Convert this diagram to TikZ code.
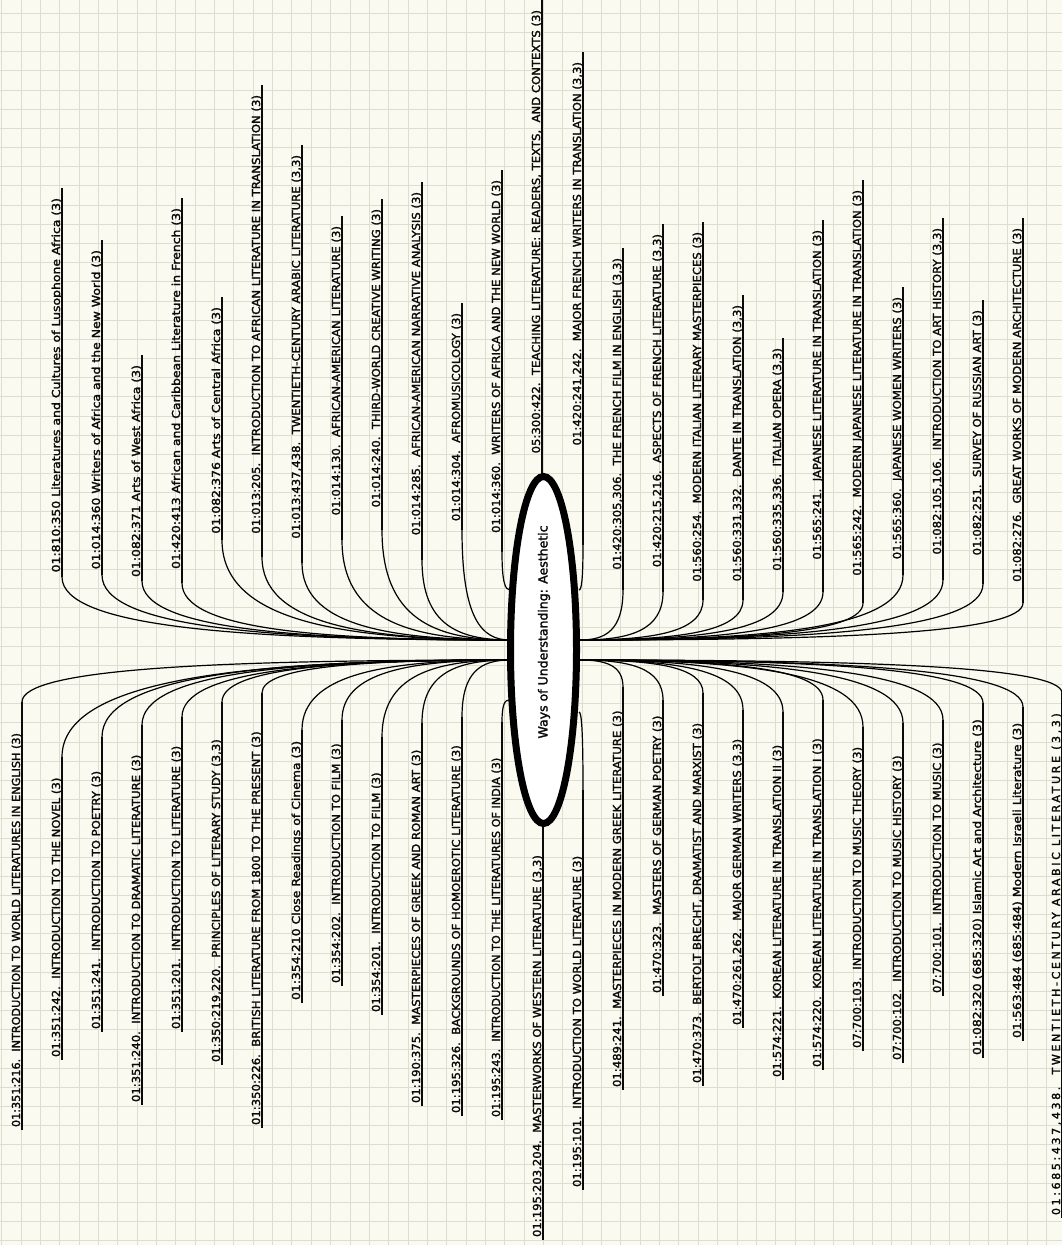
\documentclass[tikz,border=0pt]{standalone}
\usepackage{fontspec}
\setmainfont{DejaVu Sans}
\newfontfamily\capsf[FakeStretch=1.06,FakeBold=2]{DejaVu Sans}
\newfontfamily\capnf[FakeStretch=1.02,FakeBold=2]{DejaVu Sans}
\newfontfamily\capwf[LetterSpace=24,FakeBold=2]{DejaVu Sans}
\newfontfamily\mixf[FakeStretch=1.13,FakeBold=2]{DejaVu Sans}
\newfontfamily\ctrf[FakeBold=2]{DejaVu Sans}
\usetikzlibrary{shapes.geometric,calc}
\definecolor{bgc}{HTML}{FAFAF0}
\definecolor{gridc}{HTML}{DCDFCF}
\definecolor{inkc}{HTML}{0A0A0A}
\tikzset{
 lab/.style={rotate=90, inner xsep=3pt, inner ysep=0pt, outer sep=0pt, text height=8pt, text depth=2pt, text=inkc},
 capl/.style={font=\capsf\fontsize{11}{13}\selectfont},
 capn/.style={font=\capnf\fontsize{11}{13}\selectfont},
 capw/.style={font=\capwf\fontsize{11}{13}\selectfont},
 mixl/.style={font=\mixf\fontsize{11}{13}\selectfont},
 uline/.style={draw=inkc, line width=1.1pt},
 conn/.style={draw=black, line width=1.2pt},
 gridl/.style={draw=gridc, line width=1pt},
}
% upper label: name, x, top of underline, attach point, style, text
\newcommand\upnode[6]{%
 \node[lab,#5,anchor=south east] (#1) at (#2,{#3+7}) {#6};
 \coordinate (#1a) at (#2,#4);
 \coordinate (#1t) at (#2,#3);
 \draw[uline] (#1a) -- (#1t);}
% lower label: name, x, text start (bottom), attach point, style, text
\newcommand\dnnode[6]{%
 \node[lab,#5,anchor=south west] (#1) at (#2,#3) {#6};
 \coordinate (#1a) at (#2,#4);
 \draw[uline] (#1.south west) -- (#1a);}
\newcommand\lnk[2]{\draw[conn] let \p1=(#1), \p2=(#2) in (\p1) .. controls (\x1,{\y1+0.8*(\y2-\y1)}) and ({\x1+0.4*(\x2-\x1)},\y2) .. (\p2);}
\begin{document}
\begin{tikzpicture}[x=1pt,y=-1pt]
\fill[bgc] (0,0) rectangle (1062,1245);
\useasboundingbox (0,0) rectangle (1062,1245);
\clip (0,0) rectangle (1062,1245);
\foreach \i in {0,...,55} \draw[gridl] ({1.7+\i*19.35},0) -- ({1.7+\i*19.35},1245);
\foreach \j in {0,...,64} \draw[gridl] (0,{13.3+\j*19.18}) -- (1062,{13.3+\j*19.18});

\coordinate (hubUL) at (510,640);
\coordinate (hubLL) at (510,660);
\coordinate (hubUR) at (580,640);
\coordinate (hubLR) at (580,660);
\coordinate (eU12) at (510,590);
\coordinate (eL13) at (509,700);
\coordinate (eU14) at (579,590);
\coordinate (eL15) at (579,712);

% upper labels
\upnode{u1}{62}{188}{577}{mixl}{01:810:350 Literatures and Cultures of Lusophone Africa (3)}
\upnode{u2}{102}{240}{575}{mixl}{01:014:360 Writers of Africa and the New World (3)}
\upnode{u3}{142}{355}{581}{mixl}{01:082:371 Arts of West Africa (3)}
\upnode{u4}{182}{198}{583}{mixl}{01:420:413 African and Caribbean Literature in French (3)}
\upnode{u5}{222}{297}{540}{mixl}{01:082:376 Arts of Central Africa (3)}
\upnode{u6}{262}{85}{557}{capl}{01:013:205.\ \ INTRODUCTION TO AFRICAN LITERATURE IN TRANSLATION (3)}
\upnode{u7}{302}{145}{563}{capl}{01:013:437,438.\ \ TWENTIETH-CENTURY ARABIC LITERATURE (3,3)}
\upnode{u8}{342}{216}{540}{capl}{01:014:130.\ \ AFRICAN-AMERICAN LITERATURE (3)}
\upnode{u9}{382}{199}{530}{capl}{01:014:240.\ \ THIRD-WORLD CREATIVE WRITING (3)}
\upnode{u10}{422}{182}{560}{capl}{01:014:285.\ \ AFRICAN-AMERICAN NARRATIVE ANALYSIS (3)}
\upnode{u11}{462}{303}{530}{capl}{01:014:304.\ \ AFROMUSICOLOGY (3)}
\upnode{u12}{502}{170}{552}{capl}{01:014:360.\ \ WRITERS OF AFRICA AND THE NEW WORLD (3)}
\upnode{u13}{542}{0}{480}{capl}{05:300:422.\ \ TEACHING LITERATURE: READERS, TEXTS,\ \ AND CONTEXTS (3)}
\upnode{u14}{583}{52}{545}{capl}{01:420:241,242.\ \ MAJOR FRENCH WRITERS IN TRANSLATION (3,3)}
\upnode{u15}{623}{248}{590}{capl}{01:420:305,306.\ \ THE FRENCH FILM IN ENGLISH (3,3)}
\upnode{u16}{663}{224}{592}{capl}{01:420:215,216.\ \ ASPECTS OF FRENCH LITERATURE (3,3)}
\upnode{u17}{703}{222}{600}{capl}{01:560:254.\ \ MODERN ITALIAN LITERARY MASTERPIECES (3)}
\upnode{u18}{743}{295}{600}{capl}{01:560:331,332.\ \ DANTE IN TRANSLATION (3,3)}
\upnode{u19}{783}{338}{592}{capl}{01:560:335,336.\ \ ITALIAN OPERA (3,3)}
\upnode{u20}{823}{220}{592}{capl}{01:565:241.\ \ JAPANESE LITERATURE IN TRANSLATION (3)}
\upnode{u21}{863}{180}{603}{capl}{01:565:242.\ \ MODERN JAPANESE LITERATURE IN TRANSLATION (3)}
\upnode{u22}{903}{287}{575}{capl}{01:565:360.\ \ JAPANESE WOMEN WRITERS (3)}
\upnode{u23}{943}{218}{580}{capl}{01:082:105,106.\ \ INTRODUCTION TO ART HISTORY (3,3)}
\upnode{u24}{983}{300}{584}{capl}{01:082:251.\ \ SURVEY OF RUSSIAN ART (3)}
\upnode{u25}{1023}{218}{603}{capl}{01:082:276.\ \ GREAT WORKS OF MODERN ARCHITECTURE (3)}

% lower labels
\dnnode{l1}{22}{1130}{702}{capn}{01:351:216.\ \ INTRODUCTION TO WORLD LITERATURES IN ENGLISH (3)}
\dnnode{l2}{62}{1060}{757}{capl}{01:351:242.\ \ INTRODUCTION TO THE NOVEL (3)}
\dnnode{l3}{102}{1032}{737}{capl}{01:351:241.\ \ INTRODUCTION TO POETRY (3)}
\dnnode{l4}{142}{1105}{725}{capl}{01:351:240.\ \ INTRODUCTION TO DRAMATIC LITERATURE (3)}
\dnnode{l5}{182}{1032}{717}{capl}{01:351:201.\ \ INTRODUCTION TO LITERATURE (3)}
\dnnode{l6}{222}{1065}{702}{capl}{01:350:219,220.\ \ PRINCIPLES OF LITERARY STUDY (3,3)}
\dnnode{l7}{262}{1128}{693}{capl}{01:350:226.\ \ BRITISH LITERATURE FROM 1800 TO THE PRESENT (3)}
\dnnode{l8}{302}{1003}{730}{mixl}{01:354:210 Close Readings of Cinema (3)}
\dnnode{l9}{342}{986}{720}{capl}{01:354:202.\ \ INTRODUCTION TO FILM (3)}
\dnnode{l10}{382}{1015}{737}{capl}{01:354:201.\ \ INTRODUCTION TO FILM (3)}
\dnnode{l11}{422}{1106}{723}{capl}{01:190:375.\ \ MASTERPIECES OF GREEK AND ROMAN ART (3)}
\dnnode{l12}{462}{1116}{717}{capl}{01:195:326.\ \ BACKGROUNDS OF HOMOEROTIC LITERATURE (3)}
\dnnode{l13}{502}{1120}{722}{capn}{01:195:243.\ \ INTRODUCTION TO THE LITERATURES OF INDIA (3)}
\dnnode{l14}{543}{1240}{818}{capl}{01:195:203,204.\ \ MASTERWORKS OF WESTERN LITERATURE (3,3)}
\dnnode{l15}{583}{1190}{790}{capl}{01:195:101.\ \ INTRODUCTION TO WORLD LITERATURE (3)}
\dnnode{l16}{623}{1090}{687}{capl}{01:489:241.\ \ MASTERPIECES IN MODERN GREEK LITERATURE (3)}
\dnnode{l17}{663}{996}{700}{capl}{01:470:323.\ \ MASTERS OF GERMAN POETRY (3)}
\dnnode{l18}{703}{1086}{693}{capl}{01:470:373.\ \ BERTOLT BRECHT, DRAMATIST AND MARXIST (3)}
\dnnode{l19}{743}{1028}{710}{capl}{01:470:261,262.\ \ MAJOR GERMAN WRITERS (3,3)}
\dnnode{l20}{783}{1080}{712}{capl}{01:574:221.\ \ KOREAN LITERATURE IN TRANSLATION II (3)}
\dnnode{l21}{823}{1070}{700}{capl}{01:574:220.\ \ KOREAN LITERATURE IN TRANSLATION I (3)}
\dnnode{l22}{863}{1051}{727}{capl}{07:700:103.\ \ INTRODUCTION TO MUSIC THEORY (3)}
\dnnode{l23}{903}{1063}{723}{capl}{07:700:102.\ \ INTRODUCTION TO MUSIC HISTORY (3)}
\dnnode{l24}{943}{996}{720}{capl}{07:700:101.\ \ INTRODUCTION TO MUSIC (3)}
\dnnode{l25}{983}{1058}{703}{mixl}{01:082:320 (685:320) Islamic Art and Architecture (3)}
\dnnode{l26}{1023}{1041}{707}{mixl}{01:563:484 (685:484) Modern Israeli Literature (3)}
\dnnode{l27}{1062}{1218}{693}{capw}{01:685:437,438.\ \ TWENTIETH-CENTURY ARABIC LITERATURE (3,3)}

% connectors
\foreach \q in {u1,u2,u3,u4,u5,u6,u7,u8,u9,u10,u11} {\lnk{\q a}{hubUL}}
\lnk{u12a}{eU12}
\lnk{u14a}{eU14}
\foreach \q in {u15,u16,u17,u18,u19,u20,u21,u22,u23,u24,u25} {\lnk{\q a}{hubUR}}
\foreach \q in {l1,l2,l3,l4,l5,l6,l7,l8,l9,l10,l11,l12} {\lnk{\q a}{hubLL}}
\lnk{l13a}{eL13}
\lnk{l15a}{eL15}
\foreach \q in {l16,l17,l18,l19,l20,l21,l22,l23,l24,l25,l26,l27} {\lnk{\q a}{hubLR}}

% central node
\node[ellipse, draw=black, line width=7pt, fill=white, minimum width=66pt, minimum height=347pt, inner sep=0pt] (ctr) at (543.5,650) {};
\node[rotate=90, inner sep=0pt, font=\ctrf\fontsize{12.5}{14}\selectfont, text=inkc] (ctrtext) at (544,632) {Ways of Understanding: Aesthetic};
\end{tikzpicture}
\end{document}
